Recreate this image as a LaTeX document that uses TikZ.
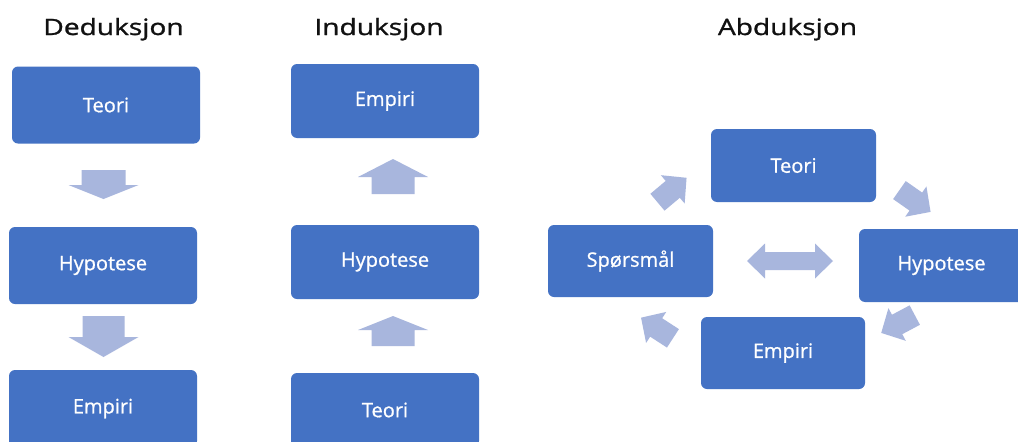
\documentclass[tikz,border=0pt]{standalone}
\usepackage{fontspec}
\setmainfont{Open Sans}
\newfontfamily\titlefont[FakeStretch=1.25,FakeBold=1.2]{Open Sans}
\newfontfamily\boxfont[FakeBold=0.8]{Open Sans}
\definecolor{boxblue}{HTML}{4472C4}
\definecolor{arrowblue}{HTML}{A8B6DD}
\definecolor{titlegray}{HTML}{111111}
% block arrow: cx, cy, angle, length, shaft width, head width, head length
\newcommand\blockarr[7]{%
  \fill[arrowblue,shift={(#1,#2)},rotate=#3]
    ({-#4/2},{-#5/2}) -- ({#4/2-#7},{-#5/2}) -- ({#4/2-#7},{-#6/2}) --
    ({#4/2},0) -- ({#4/2-#7},{#6/2}) -- ({#4/2-#7},{#5/2}) --
    ({-#4/2},{#5/2}) -- cycle;}
% double block arrow: cx, cy, length, shaft width, head width, head length
\newcommand\dblarr[6]{%
  \fill[arrowblue,shift={(#1,#2)}]
    ({-#3/2},0) -- ({-#3/2+#6},{-#5/2}) -- ({-#3/2+#6},{-#4/2}) --
    ({#3/2-#6},{-#4/2}) -- ({#3/2-#6},{-#5/2}) -- ({#3/2},0) --
    ({#3/2-#6},{#5/2}) -- ({#3/2-#6},{#4/2}) -- ({-#3/2+#6},{#4/2}) --
    ({-#3/2+#6},{#5/2}) -- cycle;}
\tikzset{
  box/.style={rectangle, rounded corners=6pt, fill=boxblue, text=white,
    inner sep=0pt, font=\boxfont\fontsize{20}{24}\selectfont},
  title/.style={anchor=base, text=titlegray, inner sep=0pt,
    font=\titlefont\fontsize{22.5}{26}\selectfont}
}
\begin{document}
\begin{tikzpicture}[x=1pt,y=-1pt]
\useasboundingbox (0,0) rectangle (1018,442);
\fill[white] (0,0) rectangle (1018,442);
% titles
\node[title] (t1) at (113.5,35) {Deduksjon};
\node[title] (t2) at (379,35) {Induksjon};
\node[title] (t3) at (787.5,35) {Abduksjon};
% Deduksjon
\node[box, minimum width=188pt, minimum height=77pt] (d1) at (106,105) {Teori};
\node[box, minimum width=188pt, minimum height=77pt] (d2) at (103,265.5) {Hypotese};
\node[box, minimum width=188pt, minimum height=77pt] (d3) at (103,408.5) {Empiri};
\blockarr{103.5}{184.5}{-90}{29}{44}{70}{14}
\blockarr{103.5}{336.5}{-90}{41}{42}{70}{20}
% Induksjon
\node[box, minimum width=188pt, minimum height=74pt] (i1) at (385,101) {Empiri};
\node[box, minimum width=188pt, minimum height=74pt] (i2) at (385,262) {Hypotese};
\node[box, minimum width=188pt, minimum height=74pt] (i3) at (385,410) {Teori};
\blockarr{393}{176.5}{90}{35}{43}{70}{18}
\blockarr{393}{331}{90}{30}{43}{70}{14}
% Abduksjon
\node[box, minimum width=165pt, minimum height=73pt] (a1) at (793.5,165.5) {Teori};
\node[box, minimum width=165pt, minimum height=72pt] (a2) at (630.5,261) {Spørsmål};
\node[box, minimum width=165pt, minimum height=73pt] (a3) at (941.5,265.5) {Hypotese};
\node[box, minimum width=164pt, minimum height=72pt] (a4) at (783,353) {Empiri};
\blockarr{672}{190}{40}{38}{22}{37}{18}
\blockarr{915}{201}{-35}{38}{22}{37}{18}
\blockarr{898}{324}{-152}{38}{22}{37}{18}
\blockarr{657}{328}{147}{38}{22}{37}{18}
\dblarr{790}{261}{86}{18}{35}{18}
\end{tikzpicture}
\end{document}
